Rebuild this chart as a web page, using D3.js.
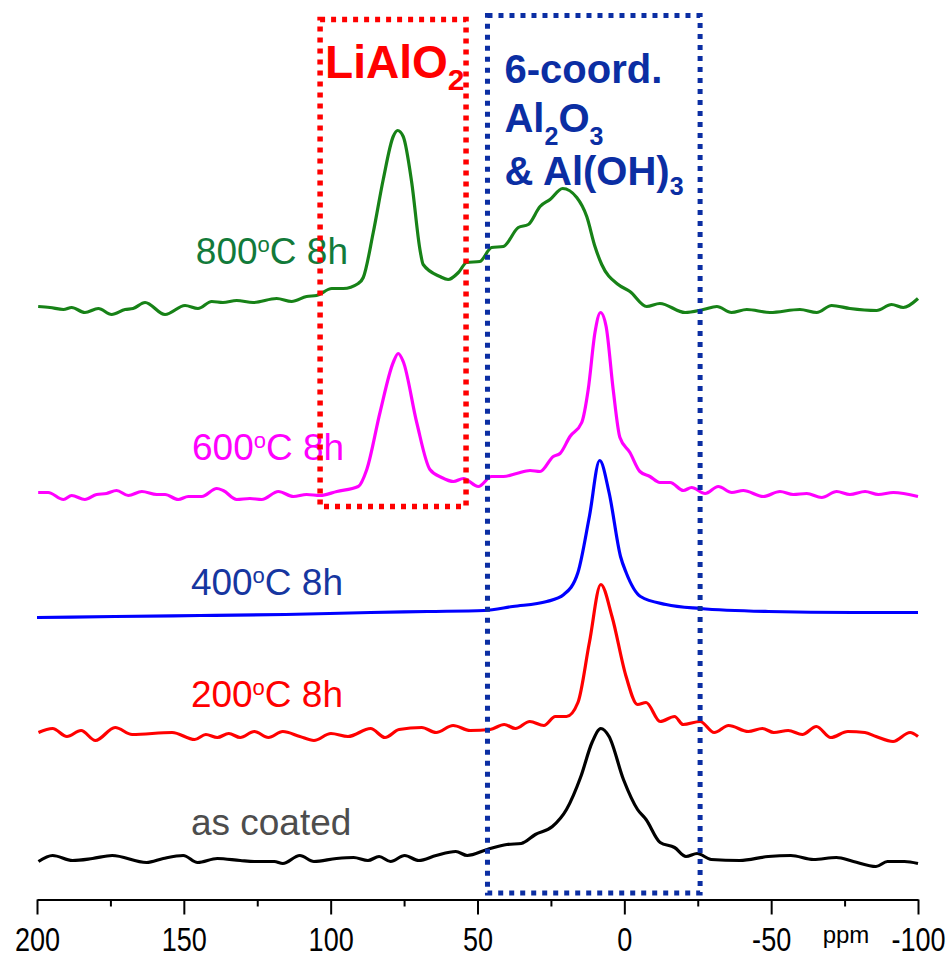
<!DOCTYPE html>
<html><head><meta charset="utf-8">
<script src="https://cdn.jsdelivr.net/npm/d3@7"></script>
<style>body{margin:0;background:#fff}</style>
</head><body>
<svg id="c" width="949" height="957"></svg>
<script>
// ---------- data (ppm, intensity in a.u. incl. stacking offset) ----------
const ppmTicks = [200,150,100,50,0,-50,-100];
const minorTicks = [175,125,75,25,-25,-75];

const s800 = [[199.6,593],[195.6,592],[191.0,590],[188.2,592],[183.7,587],[179.1,591],[174.6,585],[170.0,590],[167.3,591],[163.2,597],[156.4,585],[149.6,594],[145.2,591],[140.5,598],[136.7,597],[132.0,599],[126.4,597],[118.4,601],[113.3,598],[108.2,603],[104.8,604],[99.6,611],[95.7,611],[90.6,616],[88.9,622],[85.5,667],[82.1,720],[78.7,763],[77.2,769],[75.3,763],[72.4,717],[69.6,650],[68.5,635],[62.8,623],[60.0,620],[56.5,627],[53.7,637],[49.2,638],[45.2,652],[41.2,653],[36.1,672],[32.7,675],[28.7,693],[25.3,700],[21.0,711],[16.2,702],[12.8,683],[10.0,653],[7.7,635],[2.1,615],[-1.9,608],[-7.6,593],[-12.1,596],[-20.7,587],[-26.9,590],[-31.5,593],[-36.5,587],[-41.7,590],[-49.6,587],[-59.8,590],[-65.5,587],[-70.6,594],[-76.8,591],[-85.9,589],[-91.0,595],[-95.0,592],[-100,601]];

const s600 = [[199.6,407],[196.2,407],[191.0,400],[188.2,404],[183.7,400],[179.7,405],[176.3,406],[172.9,409],[168.9,404],[164.3,408],[159.2,405],[156.4,405],[151.9,400],[148.5,403],[143.9,403],[138.8,411],[136.6,409],[132.0,400],[127.5,401],[123.5,400],[117.8,408],[112.7,403],[108.2,405],[103.6,404],[97.9,408],[90.6,413],[87.7,430],[83.2,487],[78.7,537],[77.0,546],[75.3,538],[70.7,477],[66.2,430],[62.2,422],[58.2,418],[54.8,421],[49.7,413],[45.2,423],[41.2,423],[36.7,426],[32.1,429],[28.7,428],[24.2,443],[21.9,446],[18.5,463],[14.5,477],[12.3,510],[10.0,567],[8.1,587],[6.2,573],[3.8,510],[1.5,462],[-1.9,447],[-5.3,428],[-8.7,423],[-12.1,417],[-15.6,417],[-20.1,409],[-22.9,412],[-27.5,406],[-32.0,413],[-36.6,407],[-40.5,409],[-47.3,403],[-53.0,408],[-57.5,405],[-62.1,406],[-67.2,402],[-72.3,408],[-76.8,405],[-82.0,408],[-86.5,405],[-91.6,407],[-100,403]];

const s400 = [[200,282],[173.4,283],[144.4,284],[115.4,285],[86.4,287],[67.0,288],[47.7,289],[38.0,293],[26.4,298],[20.6,305],[15.8,327],[11.9,383],[8.4,439],[5.2,407],[1.3,343],[-0.6,327],[-5.5,303],[-14.2,295],[-25.8,291],[-49.0,288],[-78.0,287],[-100,287]];

const s200 = [[199.5,167],[194.7,171],[189.8,163],[185.0,169],[180.1,159],[173.4,172],[167.6,165],[154.0,167],[146.3,160],[142.5,165],[138.6,162],[134.7,166],[130.8,162],[126.0,168],[121.2,162],[116.3,168],[110.5,163],[105.7,159],[99.9,166],[94.1,163],[86.4,171],[81.5,162],[76.7,170],[69.0,172],[64.1,167],[58.3,174],[52.5,169],[45.7,170],[40.9,175],[37.1,171],[32.2,178],[27.4,174],[23.5,183],[19.7,183],[15.8,197],[11.9,257],[8.0,315],[4.2,283],[-0.6,223],[-4.5,195],[-7.4,197],[-12.2,178],[-17.1,183],[-20.0,175],[-25.8,178],[-30.6,167],[-35.5,174],[-42.2,168],[-47.0,171],[-50.9,167],[-55.8,169],[-60.6,165],[-65.4,173],[-70.3,162],[-76.1,168],[-81.9,167],[-85.7,163],[-91.5,158],[-97.3,167],[-100,163]];

const sCoated = [[199.5,38],[194.7,44],[187.9,39],[181.1,41],[174.4,44],[162.7,37],[157.0,41],[150.2,44],[145.3,37],[138.6,41],[130.8,39],[126.0,38],[119.2,38],[116.3,36],[110.5,44],[105.7,38],[98.0,41],[92.2,42],[87.3,39],[83.5,43],[79.6,38],[74.8,44],[70.0,39],[64.1,44],[57.4,48],[53.5,44],[46.7,50],[40.0,55],[35.1,56],[30.3,65],[24.5,73],[19.7,90],[14.8,123],[11.0,157],[8.0,171],[5.2,163],[0.3,120],[-4.5,90],[-7.4,80],[-12.2,57],[-17.1,52],[-21.0,43],[-24.8,46],[-29.6,40],[-39.3,39],[-49.0,43],[-56.7,44],[-64.4,40],[-72.2,42],[-78.0,38],[-85.7,33],[-89.6,38],[-95.4,38],[-100,36]];

const seriesNames = ["800","600","400","200","as coated"];
const seriesData = [s800, s600, s400, s200, sCoated];
const lineColors = ["#178217","#ff00ff","#0000ff","#ff0000","#000000"];
const labelColors = ["#127a3a","#ff00ff","#1636a0","#ff0000","#4d4d4d"];
// label anchor in data coords [ppm, intensity]
const labelAnchors = [[145.9,636],[147.2,440],[147.6,305],[147.6,193],[147.6,65]];

// highlighted regions [ppm from, ppm to, intensity top, intensity bottom]
const regionLiAlO2 = [103.6, 53.9, 880, 393];
const regionOct = [46.6, -25.8, 884, 6.5];

// ---------- drawing ----------
const svg = d3.select("#c");
const x = d3.scaleLinear().domain([200,-100]).range([37,918]);
const y = d3.scaleLinear().domain([0,900]).range([899.5,-0.5]);

const line = d3.line().x(d=>x(d[0])).y(d=>y(d[1])).curve(d3.curveMonotoneX);

// axis
const gx = svg.append("g").attr("transform",`translate(0,${y(0)})`)
  .call(d3.axisBottom(x).tickValues(ppmTicks).tickSize(15).tickSizeOuter(0).tickFormat(d=>String(d)));
gx.select(".domain").attr("stroke","#000").attr("stroke-width",2);
gx.selectAll(".tick line").attr("stroke","#000").attr("stroke-width",2);
gx.selectAll(".tick text").attr("y",52).attr("dy",null)
  .attr("transform","scale(0.82,1)")
  .attr("font-family","'Liberation Sans',Arial,sans-serif")
  .attr("font-size",33).attr("fill","#000");
const gm = svg.append("g").attr("transform",`translate(0,${y(0)})`)
  .call(d3.axisBottom(x).tickValues(minorTicks).tickSize(7).tickSizeOuter(0).tickFormat(""));
gm.select(".domain").remove();
gm.selectAll(".tick line").attr("stroke","#000").attr("stroke-width",2);

svg.append("text").attr("x",846).attr("y",943).attr("text-anchor","middle")
  .attr("font-family","'Liberation Sans',Arial,sans-serif").attr("font-size",24).text("ppm");

// labels
const font = "'Liberation Sans',Arial,sans-serif";
seriesNames.forEach((n,i)=>{
  const t = svg.append("text").attr("x",x(labelAnchors[i][0])).attr("y",y(labelAnchors[i][1]))
    .attr("font-family",font).attr("font-size",37).attr("fill",labelColors[i]);
  if(n==="as coated"){ t.text(n); }
  else {
    t.append("tspan").text(n);
    t.append("tspan").attr("font-size",22).attr("dy",-12).text("o");
    t.append("tspan").attr("dy",12).text("C 8h");
  }
});

// traces
seriesData.forEach((d,i)=>{
  svg.append("path").datum(d).attr("d",line).attr("fill","none")
    .attr("stroke",lineColors[i]).attr("stroke-width",3.2).attr("stroke-linejoin","round");
});

// boxes
function box(r,color,w){
  svg.append("rect").attr("x",x(r[0])).attr("y",y(r[2]))
    .attr("width",x(r[1])-x(r[0])).attr("height",y(r[3])-y(r[2]))
    .attr("fill","none").attr("stroke",color).attr("stroke-width",w)
    .attr("stroke-dasharray","5 6");
}
box(regionLiAlO2,"#ff0000",5.5);
box(regionOct,"#0b2ea3",5);

// box titles
const t1 = svg.append("text").attr("x",x(regionLiAlO2[0])+5).attr("y",78)
  .attr("font-family",font).attr("font-weight","bold").attr("font-size",46).attr("fill","#ff0000");
t1.append("tspan").text("LiAlO");
t1.append("tspan").attr("font-size",30).attr("dy",12).text("2");

const bx = x(regionOct[0])+17, blue="#0b2ea3";
const tt = (yy)=>svg.append("text").attr("x",bx).attr("y",yy).attr("font-family",font)
  .attr("font-weight","bold").attr("font-size",40).attr("fill",blue);
tt(83).text("6-coord.");
const t2 = tt(132);
t2.append("tspan").text("Al");
t2.append("tspan").attr("font-size",25).attr("dy",13).text("2");
t2.append("tspan").attr("dy",-13).text("O");
t2.append("tspan").attr("font-size",25).attr("dy",13).text("3");
const t3 = tt(185);
t3.append("tspan").text("& Al(OH)");
t3.append("tspan").attr("font-size",25).attr("dy",10).text("3");
</script>
</body></html>
